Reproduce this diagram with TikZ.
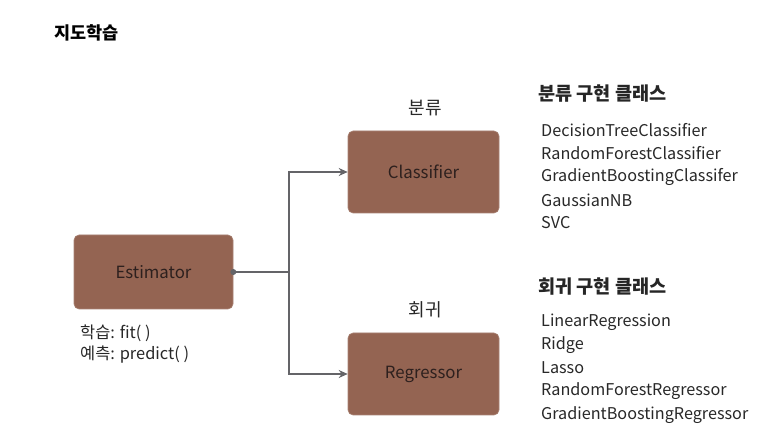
\documentclass[tikz,border=0pt]{standalone}
\usepackage{fontspec}
\setmainfont{Noto Sans CJK KR}
\usetikzlibrary{arrows.meta}
\definecolor{boxbrown}{RGB}{148,100,82}
\definecolor{boxtext}{RGB}{45,32,30}
\definecolor{linegray}{RGB}{100,100,104}
\definecolor{txt}{RGB}{40,40,40}
\tikzset{
  box/.style={draw=boxbrown!80!white, line width=0.6pt, fill=boxbrown, rounded corners=5pt, text=boxtext, font=\fontsize{16.8}{20}\selectfont, inner sep=0pt},
  conn/.style={draw=linegray, line width=1.4pt, -{Stealth[length=9pt,width=8pt]}},
  plain/.style={draw=linegray, line width=1.4pt},
  item/.style={anchor=west, inner sep=0pt, text=txt, font=\fontsize{16.2}{19}\selectfont},
  head/.style={anchor=west, inner sep=0pt, text=black!85, font=\bfseries\fontsize{18.6}{22}\selectfont},
  lbl/.style={inner sep=0pt, text=txt, font=\fontsize{18}{21}\selectfont}
}
\begin{document}
\begin{tikzpicture}[x=1pt,y=-1pt]
\useasboundingbox[fill=white] (0,0) rectangle (780,446);
\node[anchor=west, inner sep=0pt, font=\bfseries\fontsize{17.5}{21}\selectfont] (title) at (54,33) {지도학습};

\node[box, minimum width=159pt, minimum height=74pt] (est) at (153.5,272) {Estimator};
\node[box, minimum width=151pt, minimum height=82pt] (cls) at (423.5,172) {Classifier};
\node[box, minimum width=151pt, minimum height=82pt] (reg) at (423.5,374) {Regressor};

\node[lbl] (clslbl) at (425,108) {분류};
\node[lbl] (reglbl) at (425,310) {회귀};

\node[item, font=\fontsize{16.4}{19}\selectfont] (fit) at (80,333) {학습: fit( )};
\node[item, font=\fontsize{16.4}{19}\selectfont] (pred) at (80,355) {예측: predict( )};

\coordinate (split) at (289,272);
\draw[plain] (est.east) -- (split);
\draw[conn] (split) |- (cls.west);
\draw[conn] (split) |- (reg.west);
\fill[linegray] (est.east) circle (3pt);

\node[head] (clshead) at (538,94) {분류 구현 클래스};
\node[item] (c1) at (541,130) {DecisionTreeClassifier};
\node[item] (c2) at (541,153) {RandomForestClassifier};
\node[item] (c3) at (541,176.5) {GradientBoostingClassifer};
\node[item] (c4) at (541,200) {GaussianNB};
\node[item] (c5) at (541,223) {SVC};

\node[head] (reghead) at (538,287) {회귀 구현 클래스};
\node[item] (r1) at (541,322) {LinearRegression};
\node[item] (r2) at (541,345) {Ridge};
\node[item] (r3) at (541,368) {Lasso};
\node[item] (r4) at (541,391) {RandomForestRegressor};
\node[item] (r5) at (541,415) {GradientBoostingRegressor};
\end{tikzpicture}
\end{document}
